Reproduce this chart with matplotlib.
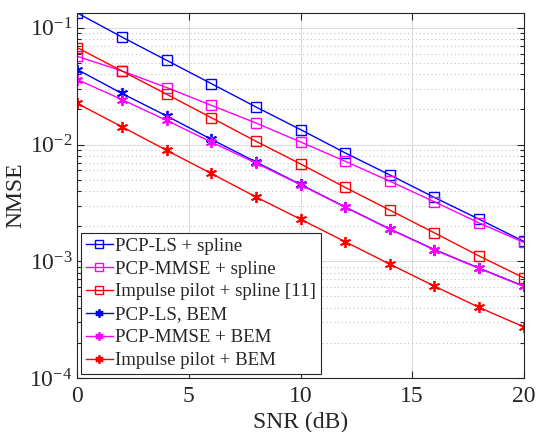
import numpy as np
import matplotlib
matplotlib.use("Agg")
import matplotlib.pyplot as plt

plt.rcParams['font.family'] = ['Liberation Serif', 'DejaVu Serif']
plt.rcParams['mathtext.fontset'] = 'custom'
plt.rcParams['mathtext.rm'] = 'Liberation Serif'
plt.rcParams['mathtext.it'] = 'Liberation Serif:italic'

snr = [0, 2, 4, 6, 8, 10, 12, 14, 16, 18, 20]

# NMSE curves, spline interpolation
pcp_ls_spline = [0.134, 0.0834, 0.0527, 0.0333, 0.0210, 0.01343, 0.00848, 0.00549, 0.00352, 0.00229, 0.00148]
pcp_mmse_spline = [0.0570, 0.0427, 0.0308, 0.0217, 0.0153, 0.01052, 0.00719, 0.00485, 0.00323, 0.00213, 0.00145]
impulse_spline = [0.0676, 0.0427, 0.0270, 0.0170, 0.01067, 0.00682, 0.00429, 0.00274, 0.00175, 0.00111, 0.000721]

# NMSE curves, BEM
pcp_ls_bem = [0.0439, 0.0274, 0.0176, 0.0111, 0.00710, 0.00455, 0.00292, 0.00189, 0.00126, 0.000873, 0.000612]
pcp_mmse_bem = [0.0360, 0.0243, 0.0161, 0.0105, 0.00695, 0.00452, 0.00290, 0.00188, 0.00125, 0.000868, 0.000608]
impulse_bem = [0.0225, 0.0142, 0.00893, 0.00565, 0.00356, 0.00229, 0.00147, 0.000944, 0.000612, 0.000402, 0.000274]

labels = ['PCP-LS + spline', 'PCP-MMSE + spline', 'Impulse pilot + spline [11]',
          'PCP-LS, BEM', 'PCP-MMSE + BEM', 'Impulse pilot + BEM']

fig = plt.figure(figsize=(5.4, 4.32), dpi=100)
ax = fig.add_axes([0.143, 0.125, 0.827, 0.845])

curves = [(pcp_ls_spline, 'b', 's'), (pcp_mmse_spline, 'm', 's'), (impulse_spline, 'r', 's'),
          (pcp_ls_bem, 'b', '*'), (pcp_mmse_bem, 'm', '*'), (impulse_bem, 'r', '*')]
colors = {'b': (0, 0, 1), 'm': (1, 0, 1), 'r': (1, 0, 0)}
asterisk = (6, 2, 0)

for (vals, c, m), lab in zip(curves, labels):
    if m == 's':
        ax.semilogy(snr, vals, color=colors[c], marker='s', markersize=7,
                    markerfacecolor='none', markeredgewidth=1.0, linewidth=1.0, label=lab)
    else:
        ax.semilogy(snr, vals, color=colors[c], marker=asterisk, markersize=8,
                    markeredgewidth=1.3, linewidth=1.0, label=lab)

ax.set_xlim(0, 20)
ax.set_ylim(1e-4, 0.134)
ax.set_xticks([0, 5, 10, 15, 20])

ax.grid(True, which='major', color='#dcdcdc', linestyle='-', linewidth=0.8)
ax.grid(True, which='minor', axis='y', color='#c4c4c4', linestyle=(0, (1, 2.5)), linewidth=0.8)
ax.tick_params(which='both', direction='in', top=True, right=True, labelsize=17, width=0.8,
               colors='#262626', labelcolor='#262626')
ax.tick_params(which='major', length=5)
ax.tick_params(which='minor', length=3)
ax.tick_params(axis='x', pad=6)
for s in ax.spines.values():
    s.set_linewidth(0.8)
    s.set_color('#262626')

ax.set_xlabel('SNR (dB)', fontsize=17, labelpad=3, color='#262626')
ax.set_ylabel('NMSE', fontsize=17, labelpad=2, color='#262626')

leg = ax.legend(loc='lower left', fontsize=13.6, handlelength=1.4, handletextpad=0.15,
                labelspacing=0.3, borderaxespad=0.22, borderpad=0.25, fancybox=False,
                framealpha=1, markerscale=0.75)
leg.get_frame().set_edgecolor('#262626')
leg.get_frame().set_linewidth(0.8)
for t in leg.get_texts():
    t.set_color('#262626')

fig.savefig('out.png', dpi=100)
